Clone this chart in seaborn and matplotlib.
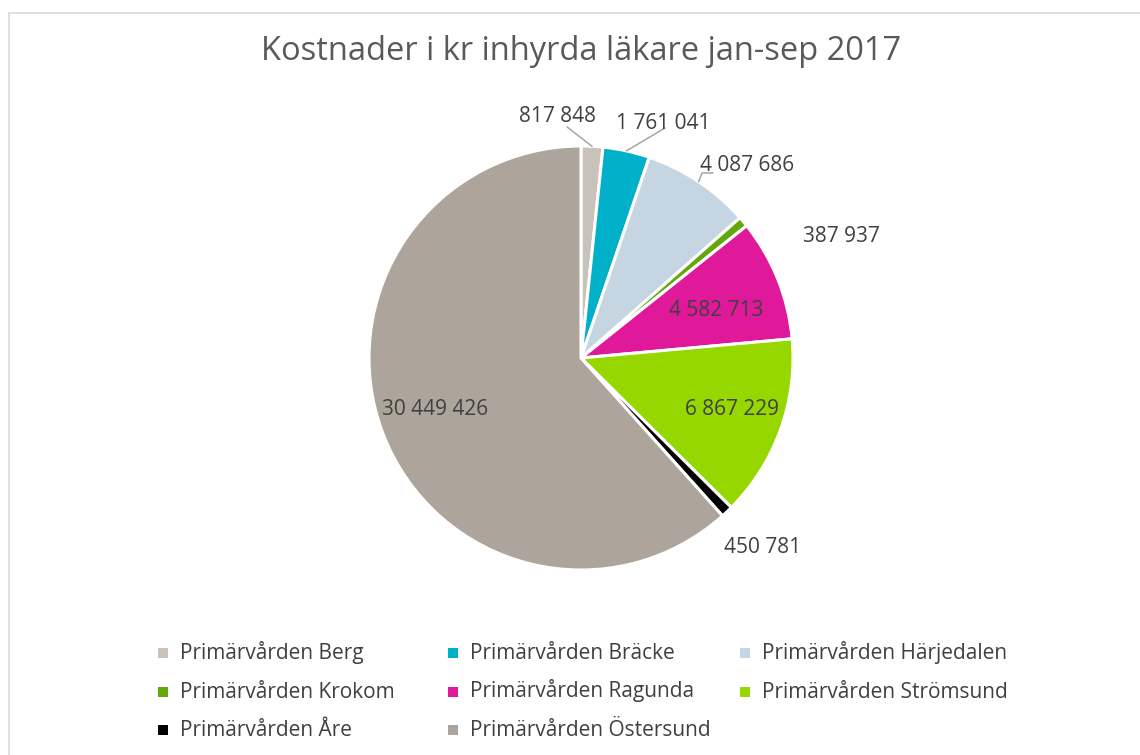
import numpy as np
import seaborn as sns
import matplotlib.pyplot as plt
from matplotlib.patches import Rectangle

# data
regions = ["Primärvården Berg", "Primärvården Bräcke", "Primärvården Härjedalen",
           "Primärvården Krokom", "Primärvården Ragunda", "Primärvården Strömsund",
           "Primärvården Åre", "Primärvården Östersund"]
costs = [817848, 1761041, 4087686, 387937, 4582713, 6867229, 450781, 30449426]
title = "Kostnader i kr inhyrda läkare jan-sep 2017"

colors = ["#C9C2BA", "#00AFC8", "#C6D5E2", "#63A70A", "#E0189A",
          "#97D700", "#000000", "#ADA59C"]

# label positions in pie-radius units (x, y) relative to the centre
label_pos = [(-0.11, 1.137), (0.39, 1.108), (0.785, 0.91), (1.23, 0.571),
             (0.64, 0.226), (0.71, -0.245), (0.855, -0.892), (-0.69, -0.245)]
# leader line end points (None = no line)
leaders = [[(-0.066, 1.09)], [(0.396, 1.085)], [(0.571, 0.873), (0.623, 0.873)],
           None, None, None, None, None]

sns.set_theme(style="white")
plt.rcParams['font.family'] = ['Open Sans', 'DejaVu Sans']
txt_col = "#404040"

W, H = 1140, 755
fig = plt.figure(figsize=(W / 100, H / 100), dpi=100)
fig.patch.set_facecolor("white")

# outer chart border
fig.patches.append(Rectangle((9 / W, -0.05), 1.1, 1 - 13 / H + 0.05, transform=fig.transFigure,
                             fill=False, edgecolor="#D9D9D9", linewidth=1.2))

cx, cy, r = 581, 358, 212
ax = fig.add_axes([(cx - r) / W, (H - cy - r) / H, 2 * r / W, 2 * r / H])
wedges, _ = ax.pie(costs, colors=colors, startangle=90, counterclock=False,
                   wedgeprops=dict(edgecolor="white", linewidth=2.2))
ax.set_xlim(-1, 1)
ax.set_ylim(-1, 1)
ax.set_aspect("auto")
ax.axis("off")

total = sum(costs)
start = 0.0
for i, v in enumerate(costs):
    frac = v / total
    mid = (start + frac / 2) * 2 * np.pi
    start += frac
    lx, ly = label_pos[i]
    ax.text(lx, ly, f"{v:,}".replace(",", " "), ha="center", va="center",
            fontsize=15, color=txt_col, clip_on=False)
    if leaders[i]:
        xs = [np.sin(mid)] + [p[0] for p in leaders[i]]
        ys = [np.cos(mid)] + [p[1] for p in leaders[i]]
        ax.plot(xs, ys, color="#A6A6A6", linewidth=1.1, clip_on=False)

fig.text(cx / W, 1 - 52 / H, title, ha="center", va="center", fontsize=23.5, color="#595959")

# legend, drawn entry by entry so rows line up across columns (3 per row)
col_x = [158, 448, 740]
row_base = [659, 697.5, 736]
sq = 10
for k, (name, c) in enumerate(zip(regions, colors)):
    x, yb = col_x[k % 3], row_base[k // 3]
    fig.patches.append(Rectangle((x / W, 1 - (yb - 1) / H), sq / W, sq / H,
                                 transform=fig.transFigure, facecolor=c, edgecolor="none"))
    fig.text((x + sq + 12) / W, 1 - yb / H, name, ha="left", va="baseline",
             fontsize=15, color=txt_col)

fig.savefig("out.png", dpi=100, facecolor="white")
